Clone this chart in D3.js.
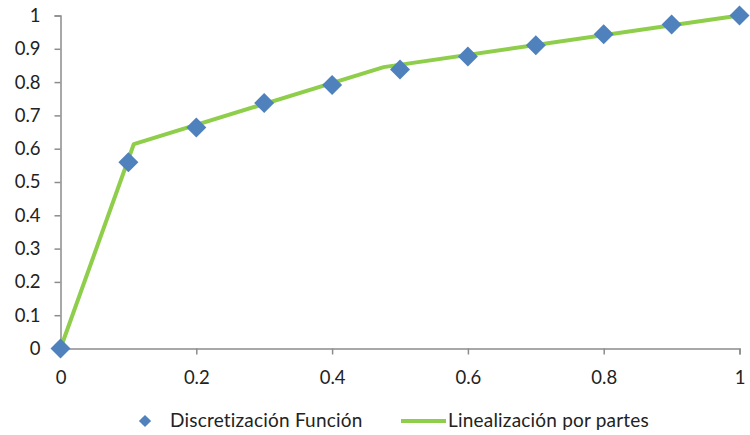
<!DOCTYPE html>
<html>
<head>
<meta charset="utf-8">
<script src="https://cdn.jsdelivr.net/npm/d3@7"></script>
<style>
  html, body { margin: 0; padding: 0; background: #fff; }
  svg text { font-family: Lato, "Open Sans", sans-serif; fill: #222; }
</style>
</head>
<body>
<svg id="chart" width="750" height="435"></svg>
<script>
// Sampled function values
const xPoints = [0, 0.1, 0.2, 0.3, 0.4, 0.5, 0.6, 0.7, 0.8, 0.9, 1];
const yPoints = [0, 0.559, 0.664, 0.737, 0.791, 0.838, 0.877, 0.911, 0.944, 0.973, 1];

// Piecewise-linear approximation breakpoints
const lineX = [0, 0.108, 0.476, 1];
const lineY = [0, 0.614, 0.845, 1];

const xTicks = [0, 0.2, 0.4, 0.6, 0.8, 1];
const yTicks = [0, 0.1, 0.2, 0.3, 0.4, 0.5, 0.6, 0.7, 0.8, 0.9, 1];

const seriesNames = ["Discretización Función", "Linealización por partes"];

const blue = "#4f81bd";
const green = "#8fce4a";
const axisColor = "#8c8c8c";
const tickFont = "18.5px";
const legendFont = "19px";

const svg = d3.select("#chart");
const x = d3.scaleLinear().domain([0, 1]).range([60.5, 739.5]);
const y = d3.scaleLinear().domain([0, 1]).range([348.5, 15.5]);

const fmt = d => String(+d.toFixed(1));

// Y axis
const yAxis = svg.append("g")
  .attr("transform", `translate(${x(0)},0)`)
  .call(d3.axisLeft(y).tickValues(yTicks).tickSize(6).tickPadding(14).tickFormat(fmt));
// X axis
const xAxis = svg.append("g")
  .attr("transform", `translate(0,${y(0)})`)
  .call(d3.axisBottom(x).tickValues(xTicks).tickSize(6).tickPadding(16).tickFormat(fmt));

[yAxis, xAxis].forEach(g => {
  g.select(".domain").attr("stroke", axisColor).attr("stroke-width", 1.5);
  g.selectAll(".tick line").attr("stroke", axisColor).attr("stroke-width", 1.5);
  g.selectAll(".tick text").style("font-size", tickFont).attr("fill", "#222");
});
// No tick mark below the origin
xAxis.selectAll(".tick").filter(d => d === 0).select("line").remove();

// Linearization line
const lineData = lineX.map((v, i) => [v, lineY[i]]);
svg.append("path")
  .datum(lineData)
  .attr("fill", "none")
  .attr("stroke", green)
  .attr("stroke-width", 4)
  .attr("stroke-linejoin", "round")
  .attr("d", d3.line().x(d => x(d[0])).y(d => y(d[1])));

// Discrete samples as diamonds
svg.append("g").selectAll("path")
  .data(xPoints.map((v, i) => [v, yPoints[i]]))
  .join("path")
  .attr("transform", d => `translate(${x(d[0])},${y(d[1])}) rotate(45)`)
  .attr("d", d3.symbol().type(d3.symbolSquare).size(200))
  .attr("fill", blue);

// Legend
const legend = svg.append("g").attr("transform", "translate(0,421)");
legend.append("path")
  .attr("transform", "translate(145,0) rotate(45)")
  .attr("d", d3.symbol().type(d3.symbolSquare).size(75))
  .attr("fill", blue);
legend.append("text").attr("x", 170).attr("y", 6)
  .style("font-size", legendFont).style("letter-spacing", "0.2px").text(seriesNames[0]);
legend.append("line").attr("x1", 401).attr("x2", 446).attr("y1", 0).attr("y2", 0)
  .attr("stroke", green).attr("stroke-width", 4);
legend.append("text").attr("x", 448).attr("y", 6)
  .style("font-size", legendFont).style("letter-spacing", "0.2px").text(seriesNames[1]);
</script>
</body>
</html>
